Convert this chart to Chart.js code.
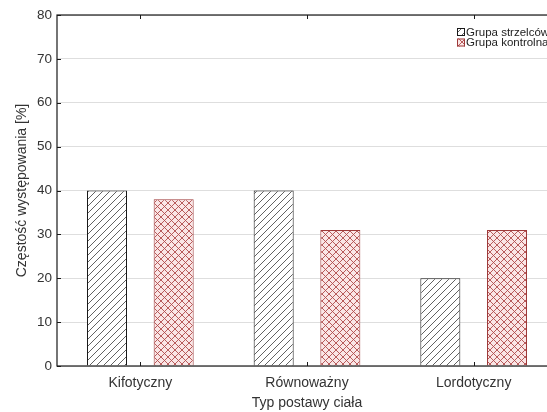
<!DOCTYPE html>
<html><head><meta charset="utf-8">
<script src="https://cdn.jsdelivr.net/npm/chart.js@4"></script>
<style>html,body{margin:0;padding:0;overflow:hidden;background:#fff}#wrap{width:560px;height:412px}</style>
</head><body><div id="wrap"><canvas id="c" width="560" height="412"></canvas></div>
<script>
const categories = ['Kifotyczny', 'Równoważny', 'Lordotyczny'];
const seriesNames = ['Grupa strzelców', 'Grupa kontrolna'];
const strzelcy = [40, 40, 20];
const kontrolna = [38, 31, 31];
const yTicks = [0, 10, 20, 30, 40, 50, 60, 70, 80];
const xTitle = 'Typ postawy ciała';
const yTitle = 'Częstość występowania [%]';

function makePattern(bg, fg, cross, n, lw) {
  const c = document.createElement('canvas');
  c.width = n; c.height = n;
  const g = c.getContext('2d');
  g.fillStyle = bg; g.fillRect(0, 0, n, n);
  g.strokeStyle = fg; g.lineWidth = lw;
  g.beginPath();
  g.moveTo(-1, n + 1); g.lineTo(n + 1, -1);
  g.moveTo(-1, 1); g.lineTo(1, -1);
  g.moveTo(n - 1, n + 1); g.lineTo(n + 1, n - 1);
  if (cross) {
    g.moveTo(-1, -1); g.lineTo(n + 1, n + 1);
    g.moveTo(n - 1, -1); g.lineTo(n + 1, 1);
    g.moveTo(-1, n - 1); g.lineTo(1, n + 1);
  }
  g.stroke();
  return g.createPattern(c, 'repeat');
}
const hatchBlack = makePattern('#ffffff', '#3a3a3a', false, 7, 0.8);
const hatchRed = makePattern('#fae6e6', '#b04c4c', true, 7, 0.9);

const FONT = "'Liberation Sans', Arial, sans-serif";

const frame = {
  id: 'frame',
  afterDatasetsDraw(chart) {
    const a = chart.chartArea, g = chart.ctx;
    g.save();
    g.strokeStyle = '#1a1a1a'; g.lineWidth = 1.2;
    g.strokeRect(a.left, a.top, a.right - a.left, a.bottom - a.top);
    g.lineWidth = 1;
    const ys = chart.scales.y, xs = chart.scales.x;
    g.beginPath();
    ys.ticks.forEach(t => {
      const y = Math.round(ys.getPixelForValue(t.value)) + 0.5;
      g.moveTo(a.left, y); g.lineTo(a.left + 4, y);
    });
    categories.forEach((c, i) => {
      const x = Math.round(xs.getPixelForValue(i)) + 0.5;
      g.moveTo(x, a.bottom); g.lineTo(x, a.bottom - 4);
      g.moveTo(x, a.top); g.lineTo(x, a.top + 4);
    });
    g.stroke();
    g.restore();
  },
  afterDraw(chart) {
    const g = chart.ctx;
    g.save();
    g.font = '11.5px ' + FONT;
    g.textBaseline = 'middle';
    chart.data.datasets.forEach((ds, i) => {
      const y = 32 + i * 10.5;
      g.fillStyle = ds.backgroundColor;
      g.fillRect(457, y - 4, 8, 8);
      g.strokeStyle = ds.borderColor; g.lineWidth = 1;
      g.strokeRect(457.5, y - 3.5, 7, 7);
      g.fillStyle = '#222';
      g.fillText(ds.label, 466, y + 0.5);
    });
    g.restore();
  }
};

new Chart(document.getElementById('c'), {
  type: 'bar',
  data: {
    labels: categories,
    datasets: [
      { label: seriesNames[0], data: strzelcy, backgroundColor: hatchBlack, borderColor: '#1a1a1a', borderWidth: 1, barPercentage: 0.6, categoryPercentage: 0.8 },
      { label: seriesNames[1], data: kontrolna, backgroundColor: hatchRed, borderColor: '#9e3a3a', borderWidth: 1, barPercentage: 0.6, categoryPercentage: 0.8 }
    ]
  },
  options: {
    responsive: false,
    animation: false,
    layout: { padding: { top: 15, right: 3, left: 0, bottom: 0 } },
    plugins: { legend: { display: false }, tooltip: { enabled: false } },
    scales: {
      x: {
        grid: { display: false },
        border: { display: false },
        ticks: { font: { family: FONT, size: 14 }, color: '#333', padding: 1 },
        title: { display: true, text: xTitle, font: { family: FONT, size: 14 }, color: '#333', padding: { top: 0, bottom: 0 } },
        afterFit(s) { s.height = 46; }
      },
      y: {
        min: 0, max: 80,
        afterBuildTicks(s) { s.ticks = yTicks.map(v => ({ value: v })); },
        grid: { color: '#dedede', drawTicks: false },
        border: { display: false },
        ticks: { font: { family: FONT, size: 13.5 }, color: '#333', padding: 5 },
        title: { display: true, text: yTitle, font: { family: FONT, size: 14 }, color: '#333', padding: { top: 14, bottom: 0 } },
        afterFit(s) { s.width = 57; }
      }
    }
  },
  plugins: [frame]
});
</script>
</body></html>
